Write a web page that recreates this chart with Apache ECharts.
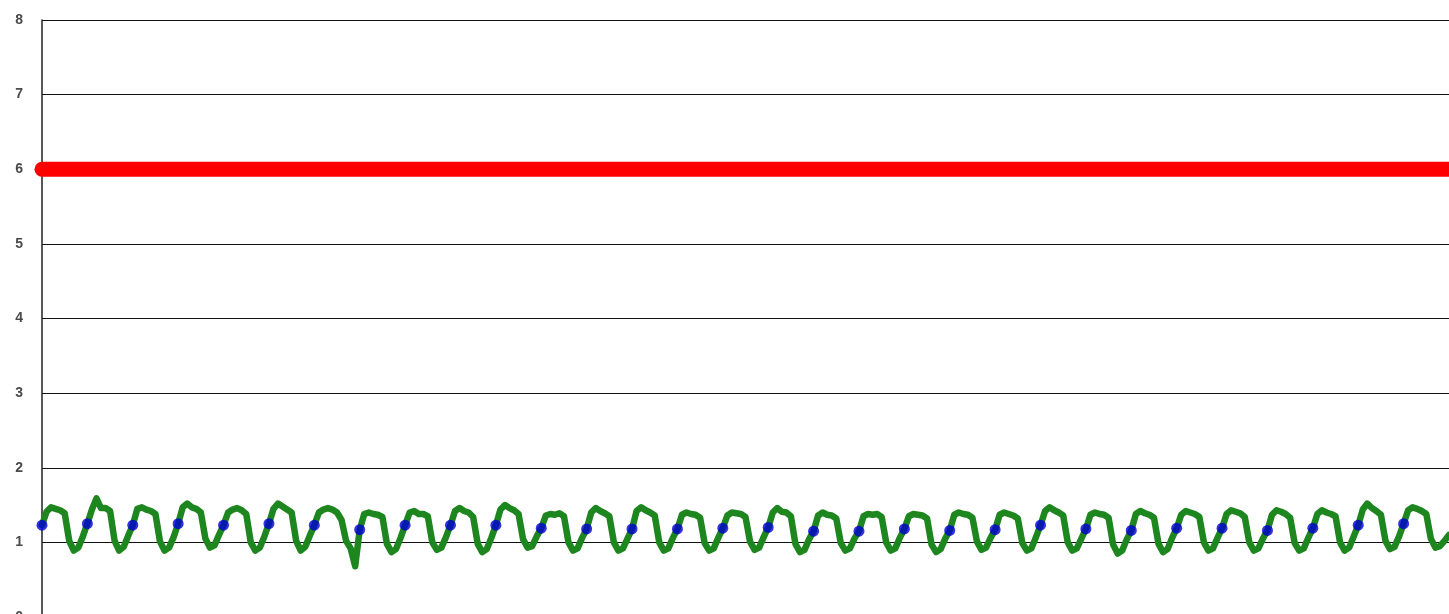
<!DOCTYPE html>
<html>
<head>
<meta charset="utf-8">
<script src="https://cdn.jsdelivr.net/npm/echarts@6/dist/echarts.min.js"></script>
<style>
html,body{margin:0;padding:0;background:#fff;overflow:hidden;}
#chart{width:1449px;height:614px;}
</style>
</head>
<body>
<div id="chart"></div>
<script>
// y-axis tick labels
var yTicks = [0, 1, 2, 3, 4, 5, 6, 7, 8];

// red reference level (constant)
var redX = [0, 310];
var redValues = [6, 6];

// green measured series (one value per sample)
var greenValues = [
  1.23,1.41,1.47,1.45,1.43,1.39,1.02,0.89,0.93,1.08,
  1.25,1.44,1.59,1.46,1.46,1.42,1.02,0.89,0.94,1.09,
  1.23,1.45,1.47,1.44,1.42,1.38,1.01,0.89,0.93,1.07,
  1.25,1.47,1.52,1.47,1.45,1.40,1.05,0.93,0.96,1.10,
  1.23,1.40,1.44,1.46,1.43,1.38,1.00,0.89,0.93,1.08,
  1.25,1.45,1.52,1.48,1.44,1.40,1.02,0.89,0.94,1.09,
  1.23,1.40,1.44,1.46,1.44,1.40,1.30,1.02,0.92,0.68,
  1.17,1.38,1.40,1.38,1.37,1.34,0.98,0.87,0.91,1.06,
  1.23,1.40,1.42,1.38,1.38,1.35,1.00,0.90,0.93,1.07,
  1.23,1.42,1.46,1.42,1.40,1.34,0.98,0.87,0.91,1.06,
  1.23,1.44,1.50,1.46,1.43,1.38,1.04,0.93,0.95,1.08,
  1.19,1.36,1.38,1.37,1.39,1.35,1.00,0.89,0.92,1.06,
  1.18,1.40,1.46,1.42,1.39,1.35,1.00,0.89,0.92,1.05,
  1.18,1.42,1.47,1.43,1.40,1.36,1.00,0.89,0.92,1.06,
  1.18,1.37,1.40,1.38,1.37,1.33,0.99,0.89,0.92,1.06,
  1.19,1.36,1.40,1.39,1.38,1.34,1.01,0.90,0.93,1.07,
  1.20,1.40,1.46,1.41,1.40,1.35,0.98,0.87,0.90,1.04,
  1.15,1.36,1.40,1.37,1.36,1.32,0.99,0.89,0.92,1.05,
  1.15,1.35,1.38,1.37,1.38,1.34,1.00,0.89,0.92,1.06,
  1.18,1.35,1.38,1.37,1.36,1.32,0.97,0.87,0.91,1.05,
  1.16,1.37,1.40,1.38,1.37,1.33,1.01,0.90,0.93,1.06,
  1.17,1.37,1.40,1.38,1.36,1.32,0.99,0.89,0.92,1.07,
  1.23,1.42,1.47,1.43,1.40,1.36,1.00,0.89,0.92,1.05,
  1.18,1.37,1.40,1.38,1.37,1.33,0.97,0.85,0.89,1.04,
  1.16,1.38,1.42,1.39,1.37,1.33,0.98,0.87,0.91,1.06,
  1.19,1.37,1.42,1.40,1.38,1.34,1.00,0.89,0.92,1.06,
  1.19,1.38,1.43,1.41,1.39,1.34,1.00,0.89,0.92,1.05,
  1.16,1.37,1.43,1.41,1.38,1.33,0.99,0.89,0.92,1.06,
  1.19,1.38,1.43,1.40,1.38,1.35,1.00,0.89,0.93,1.08,
  1.23,1.44,1.52,1.46,1.42,1.37,1.02,0.91,0.94,1.08,
  1.25,1.43,1.47,1.45,1.42,1.38,1.05,0.93,0.95,1.02,1.10
];

// blue sampled points (one every 10 samples)
var blueStep = 10;
var blueValues = [
  1.23,1.25,1.23,1.25,1.23,1.25,1.23,1.17,1.23,1.23,
  1.23,1.19,1.18,1.18,1.18,1.19,1.20,1.15,1.15,1.18,
  1.16,1.17,1.23,1.18,1.16,1.19,1.19,1.16,1.19,1.23,1.25
];

var greenData = greenValues.map(function (v, i) { return [i, v]; });
var blueData = blueValues.map(function (v, i) { return [i * blueStep, v]; });
var redData = redValues.map(function (v, i) { return [redX[i], v]; });

var chart = echarts.init(document.getElementById('chart'), null, {renderer: 'canvas', width: 1449, height: 614});
chart.setOption({
  animation: false,
  backgroundColor: '#ffffff',
  grid: {left: 42, width: 1407, top: 20, height: 597, containLabel: false, outerBoundsMode: 'none'},
  xAxis: {
    type: 'value', min: 0, max: 310, show: false
  },
  yAxis: {
    type: 'value', min: yTicks[0], max: yTicks[yTicks.length - 1], interval: 1,
    axisLine: {show: true, lineStyle: {color: '#222', width: 1.5}},
    axisTick: {show: false},
    axisLabel: {color: '#4a4a4a', fontSize: 14, fontWeight: 'bold', fontFamily: 'Liberation Sans, Arial, sans-serif', margin: 19},
    splitLine: {show: true, lineStyle: {color: '#111', width: 1.2}}
  },
  series: [
    {
      type: 'line', data: redData, symbol: 'none', clip: false, z: 3,
      lineStyle: {color: '#ff0000', width: 15, cap: 'round'}
    },
    {
      type: 'line', data: greenData, symbol: 'none', z: 4,
      lineStyle: {color: '#1e861e', width: 6.5, join: 'round', cap: 'round'}
    },
    {
      type: 'scatter', data: blueData, symbol: 'circle', symbolSize: 11, z: 5, clip: false,
      itemStyle: {color: '#0000d2'}
    }
  ]
});
</script>
</body>
</html>
